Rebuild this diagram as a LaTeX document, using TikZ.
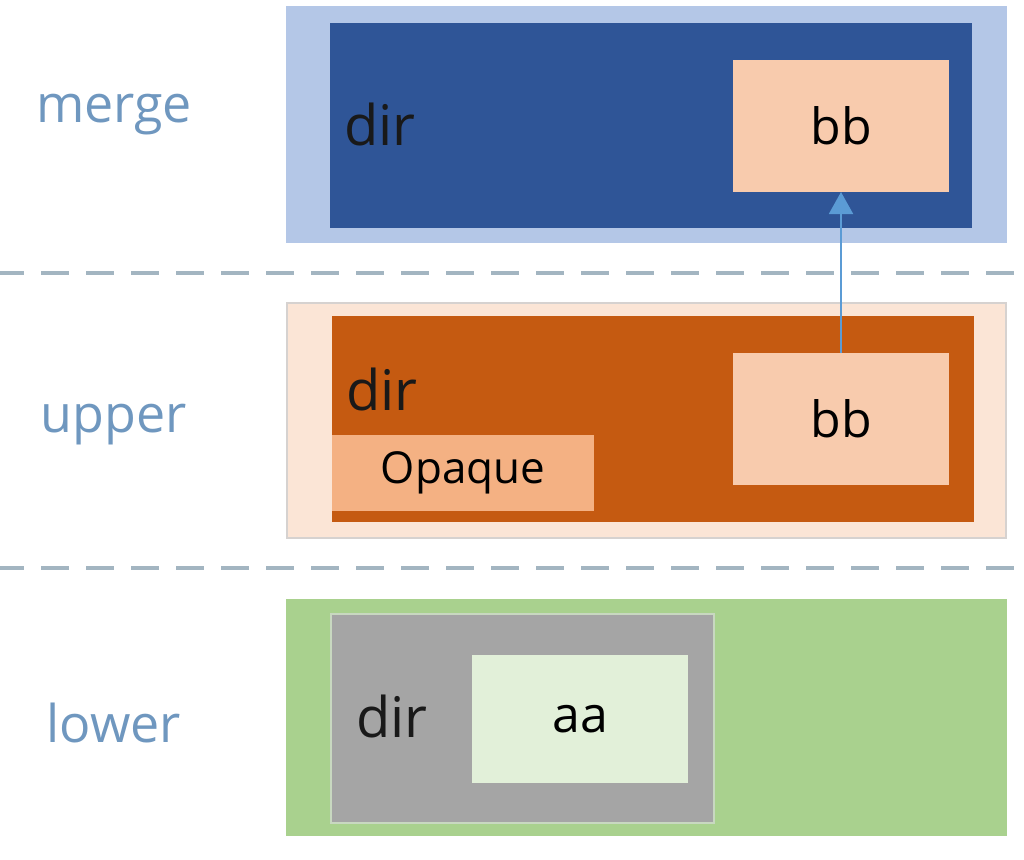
\documentclass[tikz,border=0pt]{standalone}
\usepackage{fontspec}
\setmainfont{Open Sans}
\usetikzlibrary{arrows.meta}

\definecolor{mergebg}{HTML}{B4C7E7}
\definecolor{mergefill}{HTML}{2F5597}
\definecolor{upperbg}{HTML}{FBE5D6}
\definecolor{upperline}{HTML}{D6D2D0}
\definecolor{upperfill}{HTML}{C55A11}
\definecolor{lowerbg}{HTML}{A9D18E}
\definecolor{lowerfill}{HTML}{A5A5A5}
\definecolor{lowerline}{HTML}{C8D8C0}
\definecolor{filebox}{HTML}{F8CBAD}
\definecolor{opaquebox}{HTML}{F4B183}
\definecolor{aabox}{HTML}{E2F0D9}
\definecolor{layertext}{HTML}{6F97BF}
\definecolor{sepline}{HTML}{A3B5C1}
\definecolor{arrowblue}{HTML}{5B9BD5}

\begin{document}
\begin{tikzpicture}[x=1pt, y=-1pt, every node/.style={inner sep=0pt, outer sep=0pt, anchor=north west},
    dirtext/.style={anchor=base west, text=black!90, font=\fontsize{56}{64}\selectfont},
    filetext/.style={font=\fontsize{50}{60}\selectfont}]
    \useasboundingbox (0,0) rectangle (1024,859);

    \foreach \y in {273, 568} {
        \draw[sepline, line width=4pt, dash pattern=on 28pt off 17pt, dash phase=4pt] (0,\y) -- (1024,\y);
    }

    \foreach \name/\y/\base/\edge in {merge/7/122/mergebg, upper/303/432/upperline, lower/600/742/lowerbg} {
        \node[fill=\name bg, draw=\edge, line width=1.5pt, minimum width=719pt, minimum height=235pt] (\name L) at (287,\y) {};
        \node[anchor=base, text=layertext, font=\fontsize{52}{60}\selectfont] (\name T) at (114,\base) {\name};
    }

    \node[fill=mergefill, minimum width=642pt, minimum height=205pt] (mergeD) at (330,23) {};
    \node[fill=upperfill, minimum width=642pt, minimum height=206pt] (upperD) at (332,316) {};
    \node[fill=lowerfill, draw=lowerline, line width=1.5pt, minimum width=383pt, minimum height=209pt] (lowerD) at (331,614) {};

    \node[dirtext] (mergeDir) at (344,145) {dir};
    \node[dirtext] (upperDir) at (346,410) {dir};
    \node[dirtext] (lowerDir) at (356,737) {dir};

    \node[filetext, fill=filebox, anchor=center, minimum width=216pt, minimum height=132pt] (mergeB) at (841,126) {bb};
    \node[filetext, fill=filebox, anchor=center, minimum width=216pt, minimum height=132pt] (upperB) at (841,419) {bb};
    \node[fill=opaquebox, font=\fontsize{44}{52}\selectfont, minimum width=262pt, minimum height=76pt] (upperO) at (332,435) {Opaque};
    \node[filetext, fill=aabox, minimum width=216pt, minimum height=128pt] (lowerA) at (472,655) {aa};

    \draw[arrowblue, line width=2pt, -{Triangle[length=22pt, width=24pt]}] (upperB) -- (mergeB);
\end{tikzpicture}
\end{document}
